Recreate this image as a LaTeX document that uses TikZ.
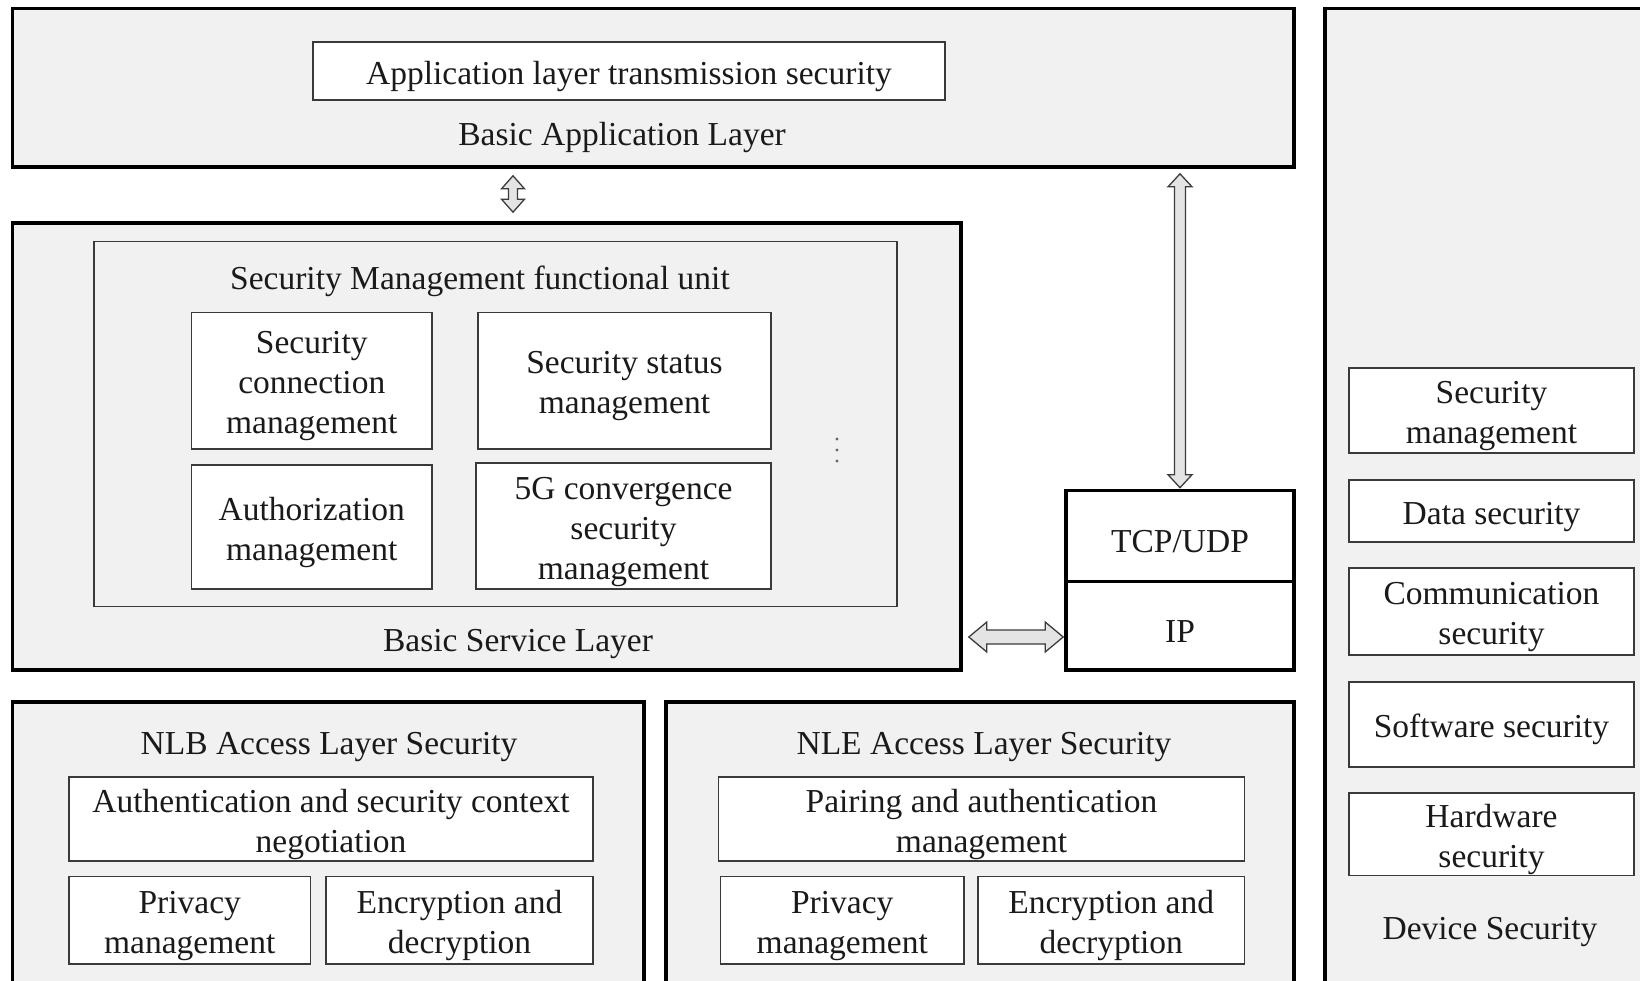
\documentclass[tikz,border=0pt]{standalone}
\usepackage{fontspec}
\setmainfont{Liberation Serif}
\usetikzlibrary{calc}

\definecolor{panel}{HTML}{F1F1F1}
\definecolor{ink}{HTML}{1A1A1A}
\definecolor{frame}{HTML}{3A3A3A}
\definecolor{arrowline}{HTML}{3C3C3C}
\definecolor{arrowfill}{HTML}{E4E4E4}

\tikzset{
  every node/.style={font=\fontsize{33.5}{40}\selectfont, text=ink},
  layer/.style={draw=black, line width=3.6pt, fill=panel, inner sep=0pt},
  unitbox/.style={draw=frame, line width=1.5pt, fill=panel, inner sep=0pt},
  item/.style={draw=frame, line width=1.5pt, fill=white, inner sep=0pt, align=center},
  proto/.style={draw=black, line width=3.6pt, fill=white, inner sep=0pt},
  caption/.style={inner sep=0pt, anchor=center},
  blockarrow/.style={draw=arrowline, line width=1.3pt, fill=arrowfill, line join=miter},
}

% rectangle node spanning the corners (x1,y1) and (x2,y2): style, name, x1, y1, x2, y2, text
% (the strut lifts the top of the text block so that the lines sit optically centred)
\newcommand{\boxnode}[7]{%
  \node[#1, minimum width={#5pt-#3pt}, minimum height={#6pt-#4pt}, anchor=center]
    (#2) at ({(#3+#5)/2},{(#4+#6)/2}) {\rule{0pt}{33.5pt}#7};}

% vertical hollow double arrow: top tip, bottom tip, shaft half width, head half width, head length
\newcommand{\vblockarrow}[5]{%
  \path[blockarrow] (#1) -- ++(#4,#5) -- ++(#3-#4,0) -- ($(#2)+(#3,-#5)$) -- ++(#4-#3,0)
    -- (#2) -- ++(-#4,-#5) -- ++(#4-#3,0) -- ($(#1)+(-#3,#5)$) -- ++(#3-#4,0) -- cycle;}
% horizontal hollow double arrow: left tip, right tip, shaft half width, head half width, head length
\newcommand{\hblockarrow}[5]{%
  \path[blockarrow] (#1) -- ++(#5,-#4) -- ++(0,#4-#3) -- ($(#2)+(-#5,-#3)$) -- ++(0,#3-#4)
    -- (#2) -- ++(-#5,#4) -- ++(0,#3-#4) -- ($(#1)+(#5,#3)$) -- ++(0,#4-#3) -- cycle;}

\begin{document}
\begin{tikzpicture}[x=1pt, y=-1pt]
\useasboundingbox (0,0) rectangle (1640,981);
\fill[white] (0,0) rectangle (1640,981);
\clip (0,0) rectangle (1640,981);

% ---------- application layer ----------
\boxnode{layer}{apl}{12.5}{8.5}{1294}{167}{}
\boxnode{item}{alts}{313}{42}{945}{100}{Application layer transmission security}
\node[caption] (aplcap) at (622,137) {Basic Application Layer};

% ---------- service layer ----------
\boxnode{layer}{svc}{12.5}{223}{961}{670}{}
\boxnode{unitbox}{smu}{94}{241.5}{897}{606.5}{}
\node[caption] (smucap) at (480,281) {Security Management functional unit};
\boxnode{item}{scm}{191.5}{312.5}{432}{449}{Security\\connection\\management}
\boxnode{item}{ssm}{478}{312.5}{771}{449}{Security status\\management}
\boxnode{item}{authm}{191.5}{465}{432}{589}{Authorization\\management}
\boxnode{item}{fiveg}{476}{463}{771}{589}{5G convergence\\security\\management}
\node[caption] (svccap) at (518,644) {Basic Service Layer};
\foreach \yy in {439,450,461} \fill[black!60] (837,\yy) circle (1.6);

% ---------- transport stack ----------
\boxnode{proto}{tcp}{1066}{490.5}{1294}{581.5}{TCP/UDP}
\boxnode{proto}{ip}{1066}{581.5}{1294}{670}{IP}

% ---------- access layers ----------
\boxnode{layer}{nlb}{12.5}{702}{644}{1010}{}
\node[caption] (nlbcap) at (329,747) {NLB Access Layer Security};
\boxnode{item}{nlbauth}{69}{777}{593}{861}{Authentication and security context\\negotiation}
\boxnode{item}{nlbpriv}{69}{876.5}{310.5}{964}{Privacy\\management}
\boxnode{item}{nlbenc}{326}{876.5}{593}{964}{Encryption and\\decryption}

\boxnode{layer}{nle}{666}{702}{1294}{1010}{}
\node[caption] (nlecap) at (984,747) {NLE Access Layer Security};
\boxnode{item}{nlepair}{718.5}{777}{1244.5}{861}{Pairing and authentication\\management}
\boxnode{item}{nlepriv}{720.5}{876.5}{964}{964}{Privacy\\management}
\boxnode{item}{nleenc}{978}{876.5}{1244.5}{964}{Encryption and\\decryption}

% ---------- device security ----------
\boxnode{layer}{dev}{1325}{8.5}{1680}{1010}{}
\boxnode{item}{devsm}{1349}{368}{1634}{453}{Security\\management}
\boxnode{item}{devdata}{1349}{480}{1634}{542}{Data security}
\boxnode{item}{devcomm}{1349}{568}{1634}{655}{Communication\\security}
\boxnode{item}{devsoft}{1349}{682}{1634}{767}{Software security}
\boxnode{item}{devhard}{1349}{793}{1634}{875.5}{Hardware\\security}
\node[caption] (devcap) at (1490,932) {Device Security};

% ---------- connectors ----------
\coordinate (colA) at (513,0);
\coordinate (rowH) at (0,637);
\coordinate (a1top) at ([yshift=-7pt]apl.south -| colA);
\coordinate (a1bot) at ([yshift=9pt]svc.north -| colA);
\vblockarrow{a1top}{a1bot}{4.5}{11.5}{13}

\coordinate (a2top) at ([yshift=-5pt]apl.south -| tcp.north);
\coordinate (a2bot) at ([yshift=1pt]tcp.north);
\vblockarrow{a2top}{a2bot}{5.5}{12}{13}

\coordinate (a3left) at ([xshift=6pt]svc.east |- rowH);
\coordinate (a3right) at ([xshift=-1pt]ip.west |- rowH);
\hblockarrow{a3left}{a3right}{7}{15}{18}
\end{tikzpicture}
\end{document}
